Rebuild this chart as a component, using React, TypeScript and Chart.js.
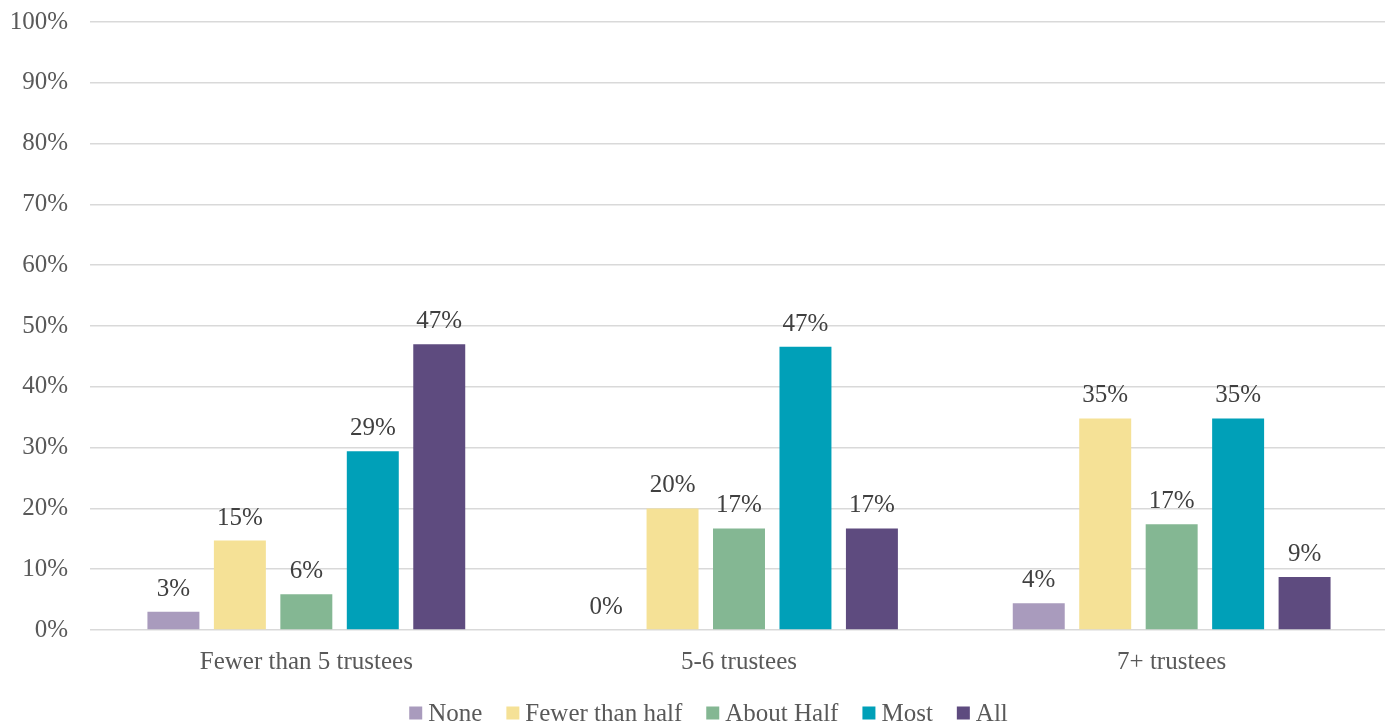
import React, { useEffect, useRef } from "react";
import { Chart, registerables } from "chart.js";

Chart.register(...registerables);

const categories = ["Fewer than 5 trustees", "5-6 trustees", "7+ trustees"];
const seriesNames = ["None", "Fewer than half", "About Half", "Most", "All"];
const noneValues = [3, 0, 4.4];
const fewerValues = [14.7, 20, 34.8];
const aboutHalfValues = [5.9, 16.7, 17.4];
const mostValues = [29.4, 46.6, 34.8];
const allValues = [47, 16.7, 8.7];
const colors = ["#A99BBD", "#F5E196", "#84B793", "#00A0B8", "#5E4B7F"];

const FONT = "'Liberation Serif', 'Times New Roman', serif";
const FS = 25;

const labelPlugin = {
  id: "barLabels",
  afterDatasetsDraw(chart: any) {
    const ctx = chart.ctx;
    ctx.save();
    ctx.font = `${FS}px ${FONT}`;
    ctx.fillStyle = "#404040";
    ctx.textAlign = "center";
    ctx.textBaseline = "alphabetic";
    chart.data.datasets.forEach((ds: any, i: number) => {
      const meta = chart.getDatasetMeta(i);
      meta.data.forEach((el: any, j: number) => {
        const v = ds.data[j];
        ctx.fillText(Math.round(v) + "%", el.x, el.y - 16);
      });
    });
    ctx.restore();
  },
};

const legendPlugin = {
  id: "customLegend",
  afterDraw(chart: any) {
    const ctx = chart.ctx;
    ctx.save();
    ctx.font = `${FS}px ${FONT}`;
    ctx.textBaseline = "middle";
    ctx.textAlign = "left";
    const box = 13;
    const gapText = 6;
    const gapItem = 24;
    const items = chart.data.datasets.map((ds: any) => ({
      label: ds.label,
      color: ds.backgroundColor,
      w: ctx.measureText(ds.label).width,
    }));
    const total =
      items.reduce((s: number, it: any) => s + box + gapText + it.w, 0) +
      gapItem * (items.length - 1);
    let x = chart.width / 2 + 8 - total / 2;
    const y = chart.height - 13;
    items.forEach((it: any) => {
      ctx.fillStyle = it.color;
      ctx.fillRect(x, y - box / 2, box, box);
      x += box + gapText;
      ctx.fillStyle = "#595959";
      ctx.fillText(it.label, x, y + 1);
      x += it.w + gapItem;
    });
    ctx.restore();
  },
};

export default function App() {
  const ref = useRef<HTMLCanvasElement>(null);
  useEffect(() => {
    const all = [noneValues, fewerValues, aboutHalfValues, mostValues, allValues];
    const chart = new Chart(ref.current!, {
      type: "bar",
      data: {
        labels: categories,
        datasets: seriesNames.map((name, i) => ({
          label: name,
          data: all[i],
          backgroundColor: colors[i],
          borderWidth: 0,
          categoryPercentage: 0.768,
          barPercentage: 0.782,
        })),
      },
      options: {
        animation: false,
        responsive: true,
        maintainAspectRatio: false,
        layout: { padding: { top: 0, right: 5, left: 0, bottom: 40 } },
        plugins: {
          legend: { display: false },
          tooltip: { enabled: false },
        },
        scales: {
          x: {
            grid: { display: false },
            border: { display: false },
            ticks: { font: { family: FONT, size: FS }, color: "#595959", padding: 9 },
          },
          y: {
            min: 0,
            max: 100,
            border: { display: false },
            grid: { color: "#D9D9D9", lineWidth: 1.5, drawTicks: false },
            ticks: {
              stepSize: 10,
              font: { family: FONT, size: FS },
              color: "#595959",
              padding: 22,
              callback: (v: any) => v + "%",
            },
            afterFit: (scale: any) => {
              scale.width = 82;
              scale.paddingTop = 14;
            },
          },
        },
      },
      plugins: [labelPlugin, legendPlugin],
    });
    return () => chart.destroy();
  }, []);
  return (
    <div style={{ width: 1385, height: 718, position: "relative" }}>
      <canvas ref={ref} />
    </div>
  );
}
